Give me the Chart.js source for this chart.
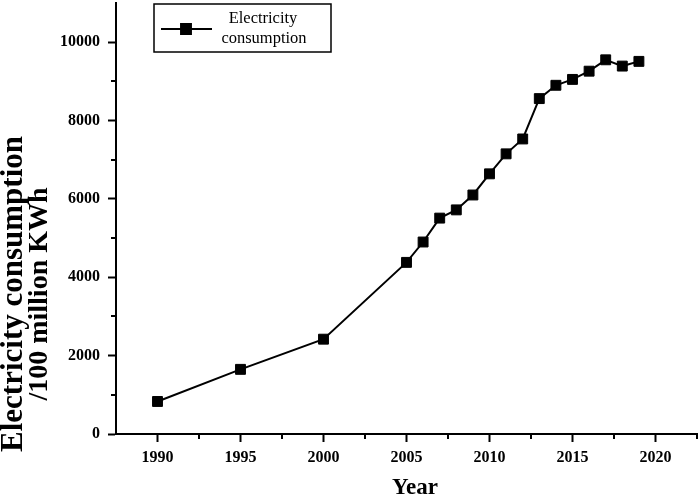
<!DOCTYPE html>
<html>
<head>
<meta charset="utf-8">
<script src="https://cdn.jsdelivr.net/npm/chart.js@4.4.1/dist/chart.umd.min.js"></script>
<style>
html,body{margin:0;padding:0;background:#fff;}
#wrap{width:699px;height:500px;position:relative;}
</style>
</head>
<body>
<div id="wrap"><canvas id="c" width="699" height="500"></canvas></div>
<script>
const years = [1990, 1995, 2000, 2005, 2006, 2007, 2008, 2009, 2010, 2011, 2012, 2013, 2014, 2015, 2016, 2017, 2018, 2019];
const consumption = [830, 1650, 2420, 4380, 4900, 5510, 5720, 6100, 6640, 7150, 7530, 8560, 8900, 9050, 9260, 9550, 9390, 9510];
const seriesLabel = ['Electricity', 'consumption'];
const xMajorTicks = [1990, 1995, 2000, 2005, 2010, 2015, 2020];
const xMinorTicks = [1992.5, 1997.5, 2002.5, 2007.5, 2012.5, 2017.5, 2022.5];
const yMajorTicks = [0, 2000, 4000, 6000, 8000, 10000];
const yMinorTicks = [1000, 3000, 5000, 7000, 9000];
const xTitle = 'Year';
const yTitle = ['Electricity consumption', '/100 million KWh'];

const SERIF = "'Liberation Serif', 'Times New Roman', serif";

const minorTicksPlugin = {
  id: 'minorTicks',
  afterDraw(chart) {
    const ctx = chart.ctx;
    const xs = chart.scales.x, ys = chart.scales.y;
    const len = 5;
    ctx.save();
    ctx.strokeStyle = '#000';
    ctx.lineWidth = 2;
    ctx.beginPath();
    xMinorTicks.forEach(v => {
      const px = Math.round(xs.getPixelForValue(v));
      ctx.moveTo(px, xs.top);
      ctx.lineTo(px, xs.top + len);
    });
    yMinorTicks.forEach(v => {
      const py = Math.round(ys.getPixelForValue(v));
      ctx.moveTo(ys.right, py);
      ctx.lineTo(ys.right - len, py);
    });
    ctx.stroke();
    ctx.restore();
  }
};

const axisTitlesPlugin = {
  id: 'axisTitles',
  afterDraw(chart) {
    const ctx = chart.ctx;
    ctx.save();
    ctx.fillStyle = '#000';
    ctx.textAlign = 'center';
    ctx.textBaseline = 'middle';
    const cy = 294;
    const xs = [14, 40];
    const sizes = [31, 28];
    yTitle.forEach((t, i) => {
      ctx.save();
      ctx.font = "bold " + sizes[i] + "px " + SERIF;
      ctx.translate(xs[i], cy);
      ctx.rotate(-Math.PI / 2);
      ctx.fillText(t, 0, 0);
      ctx.restore();
    });
    ctx.font = "bold 23px " + SERIF;
    ctx.fillText(xTitle, 415, 488);
    ctx.restore();
  }
};

const boxLegendPlugin = {
  id: 'boxLegend',
  afterDraw(chart) {
    const ctx = chart.ctx;
    const ds = chart.data.datasets[0];
    const bx = 154, by = 4, bw = 177, bh = 48;
    ctx.save();
    ctx.strokeStyle = '#000';
    ctx.lineWidth = 1.5;
    ctx.strokeRect(bx, by, bw, bh);
    const ly = by + 25;
    ctx.lineWidth = ds.borderWidth;
    ctx.beginPath();
    ctx.moveTo(bx + 7, ly);
    ctx.lineTo(bx + 58, ly);
    ctx.stroke();
    Chart.helpers.drawPoint(ctx, {
      pointStyle: ds.pointStyle, radius: ds.pointRadius, borderWidth: ds.pointBorderWidth, rotation: 0
    }, bx + 32, ly);
    ctx.fillStyle = '#000';
    ctx.fill();
    ctx.font = "16.5px " + SERIF;
    ctx.textAlign = 'center';
    ctx.textBaseline = 'middle';
    ctx.fillText(ds.label[0], bx + 109, by + 15);
    ctx.fillText(ds.label[1], bx + 110, by + 35);
    ctx.restore();
  }
};

new Chart(document.getElementById('c'), {
  type: 'line',
  data: {
    datasets: [{
      label: seriesLabel,
      data: years.map((y, i) => ({x: y, y: consumption[i]})),
      borderColor: '#000',
      backgroundColor: '#000',
      borderWidth: 2,
      pointStyle: 'rect',
      pointRadius: 7,
      pointHoverRadius: 7,
      pointBorderWidth: 1,
      pointBackgroundColor: '#000',
      pointBorderColor: '#000',
      tension: 0
    }]
  },
  options: {
    responsive: false,
    animation: false,
    events: [],
    layout: {autoPadding: false, padding: {top: 3, right: 2, left: 0, bottom: 0}},
    plugins: {legend: {display: false}, tooltip: {enabled: false}},
    scales: {
      x: {
        type: 'linear',
        min: 1987.5,
        max: 2022.5,
        afterBuildTicks: s => { s.ticks = xMajorTicks.map(v => ({value: v})); },
        afterFit: s => { s.height = 66; s.paddingLeft = 0; s.paddingRight = 0; },
        grid: {drawOnChartArea: false, drawTicks: true, tickLength: 8, tickWidth: 2, tickColor: '#000'},
        border: {display: true, color: '#000', width: 2},
        ticks: {color: '#000', padding: 6, maxRotation: 0, autoSkip: false,
          font: {family: SERIF, size: 16, weight: 'bold'}, callback: v => String(v)},
        title: {display: false}
      },
      y: {
        type: 'linear',
        min: 0,
        max: 11000,
        afterBuildTicks: s => { s.ticks = yMajorTicks.map(v => ({value: v})); },
        afterFit: s => { s.width = 116; s.paddingTop = 0; s.paddingBottom = 0; },
        grid: {drawOnChartArea: false, drawTicks: true, tickLength: 8, tickWidth: 2, tickColor: '#000'},
        border: {display: true, color: '#000', width: 2},
        ticks: {color: '#000', padding: 8, autoSkip: false,
          font: {family: SERIF, size: 16, weight: 'bold'}, callback: v => String(v)},
        title: {display: false}
      }
    }
  },
  plugins: [minorTicksPlugin, axisTitlesPlugin, boxLegendPlugin]
});
</script>
</body>
</html>
